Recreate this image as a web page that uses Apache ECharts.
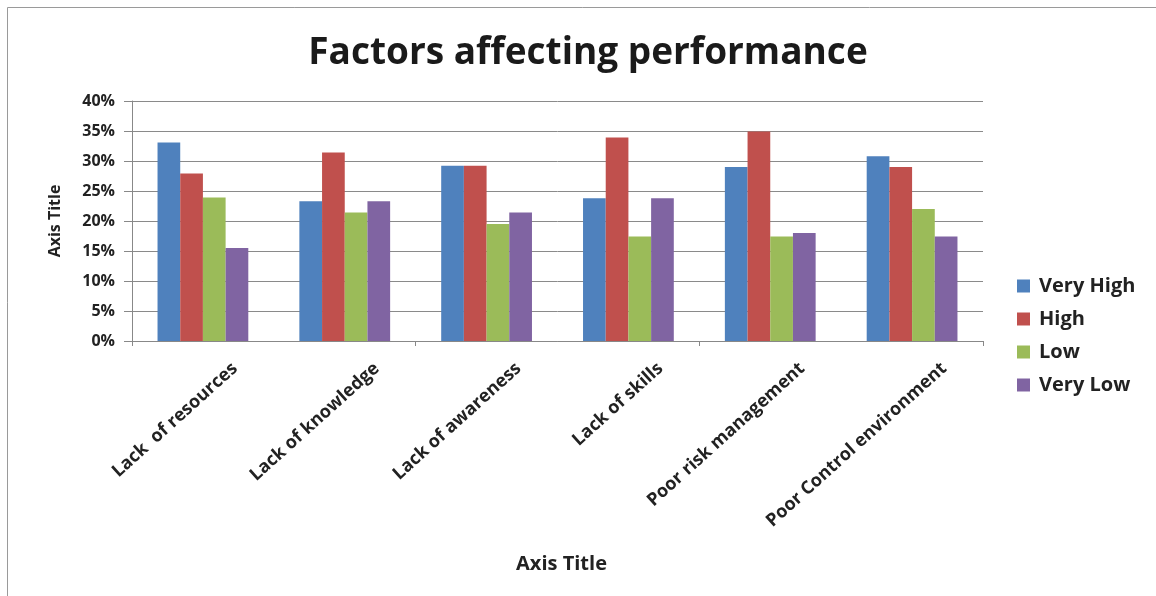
<!DOCTYPE html>
<html><head><meta charset="utf-8">
<script src="https://cdn.jsdelivr.net/npm/echarts@6/dist/echarts.min.js"></script>
<style>html,body{margin:0;padding:0;background:#fff}#c{width:1156px;height:596px}</style>
</head><body><div id="c"></div>
<script>
const categories = ["Lack  of resources","Lack of knowledge","Lack of awareness","Lack of skills","Poor risk management","Poor Control environment"];
const veryHigh = [33.1, 23.3, 29.2, 23.8, 29.0, 30.8];
const high     = [27.9, 31.4, 29.2, 33.9, 34.9, 29.0];
const low      = [23.9, 21.4, 19.5, 17.4, 17.4, 22.0];
const veryLow  = [15.5, 23.3, 21.4, 23.8, 18.0, 17.4];
const seriesNames = ["Very High","High","Low","Very Low"];
const colors = ["#4F81BD","#C0504D","#9BBB59","#8064A2"];
const F = "'Open Sans', Lato, sans-serif";
const chart = echarts.init(document.getElementById('c'));
const data = [veryHigh, high, low, veryLow];
const LX = 32; // label shift to mimic Excel's rotated label anchoring
chart.setOption({
  animation:false,
  color: colors,
  title:{text:"Factors affecting performance", left:583, textAlign:'center', top:30,
    textStyle:{fontFamily:F, fontSize:37, fontWeight:'bold', color:'#1a1a1a'}},
  graphic:[{type:'rect', shape:{x:7.5,y:7.5,width:1160,height:600}, style:{fill:null, stroke:'#9a9a9a', lineWidth:1}}],
  legend:{orient:'vertical', left:1012, top:271, itemWidth:13, itemHeight:13, itemGap:13,
    icon:'rect', textStyle:{fontFamily:F, fontSize:20, fontWeight:'bold', color:'#222', padding:[0,0,0,4]}, data:seriesNames},
  grid:[{left:132, right:173, top:101, bottom:255},
        {left:132+LX, right:173-LX, top:101, bottom:255}],
  xAxis:[{type:'category', data:categories, gridIndex:0,
    name:'Axis Title', nameLocation:'middle', nameGap:213,
    nameTextStyle:{fontFamily:F, fontSize:20, fontWeight:'bold', color:'#222', padding:[0,0,0,8]},
    axisLine:{lineStyle:{color:'#888'}},
    axisTick:{show:true, length:5, lineStyle:{color:'#888'}},
    axisLabel:{show:false}},
    {type:'category', data:categories, gridIndex:1,
    axisLine:{show:false}, axisTick:{show:false}, splitLine:{show:false},
    axisLabel:{rotate:42, margin:25, fontFamily:F, fontSize:18, fontWeight:'bold', color:'#222', interval:0}}],
  yAxis:[{type:'value', min:0, max:40, interval:5, gridIndex:0,
    name:'Axis Title', nameLocation:'middle', nameGap:69, nameRotate:90,
    nameTextStyle:{fontFamily:F, fontSize:16, fontWeight:'bold', color:'#222'},
    axisLine:{show:true, lineStyle:{color:'#888'}},
    axisTick:{show:true, length:8, lineStyle:{color:'#888'}},
    splitLine:{lineStyle:{color:'#8a8a8a'}},
    axisLabel:{formatter:'{value}%', margin:17, fontFamily:F, fontSize:16, fontWeight:'bold', color:'#222'}},
    {type:'value', min:0, max:40, gridIndex:1, show:false, splitLine:{show:false}}],
  series: seriesNames.map((n,i)=>({name:n, type:'bar', xAxisIndex:0, yAxisIndex:0, data:data[i], barGap:'0%', barCategoryGap:'36%'}))
});
</script></body></html>
